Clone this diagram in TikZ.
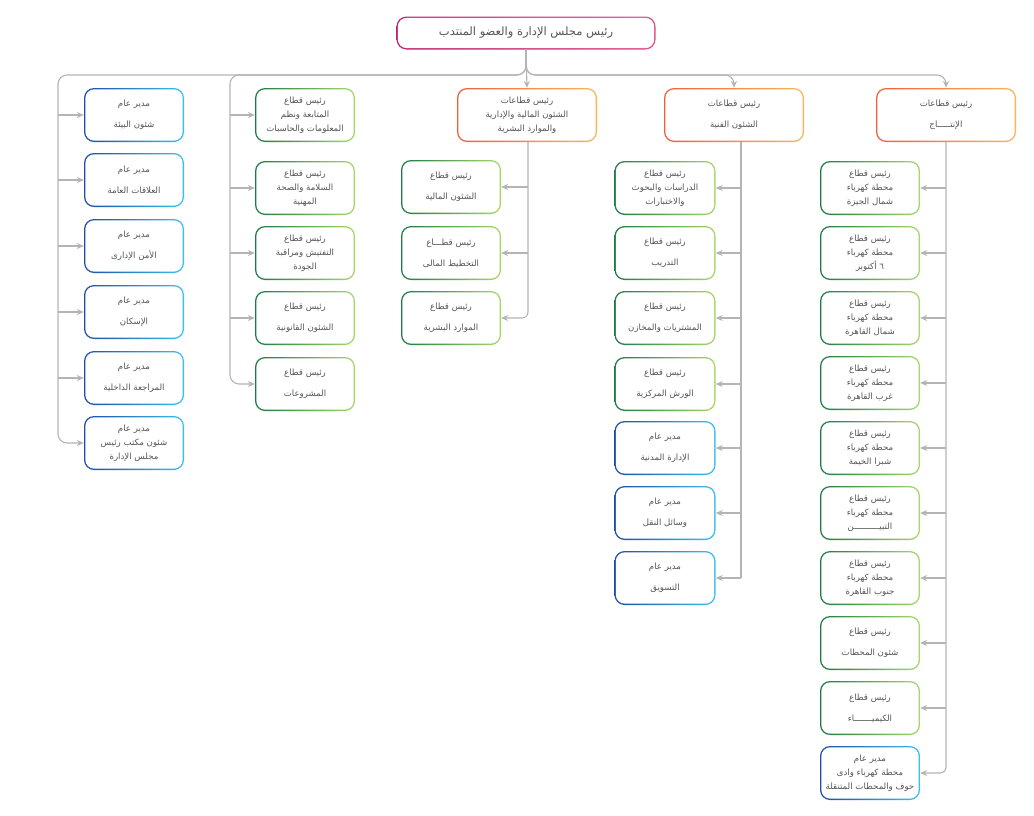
\documentclass[tikz,border=0pt]{standalone}
\usepackage{fontspec}
\TeXXeTstate=1
\newfontfamily\arabicfont[Script=Arabic]{DejaVu Sans}
\usetikzlibrary{arrows.meta}
\definecolor{gD}{HTML}{1E7A45}\definecolor{gL}{HTML}{A8D86A}
\definecolor{bD}{HTML}{1F4EA6}\definecolor{bL}{HTML}{3CC0F0}
\definecolor{oD}{HTML}{F0603A}\definecolor{oL}{HTML}{FDB55A}
\definecolor{mD}{HTML}{C0246A}\definecolor{mL}{HTML}{E0508A}
\definecolor{ln}{HTML}{B4B4B4}\definecolor{tx}{HTML}{555555}
\newcommand\rl[1]{\beginR #1\endR}
\newcommand\bx[7]{%
 \shade[rounded corners=10pt, left color=#6D, right color=#6L] ({#2-#4/2},{#3-#5/2}) rectangle ({#2+#4/2},{#3+#5/2});
 \fill[white, rounded corners=9pt] ({#2-#4/2+1.3},{#3-#5/2+1.3}) rectangle ({#2+#4/2-1.3},{#3+#5/2-1.3});
 \node[txt, minimum width=#4pt, minimum height=#5pt] (#1) at (#2,#3) {#7};}
\begin{document}
\begin{tikzpicture}[x=1pt,y=-1pt,
 txt/.style={align=center, text=tx, font=\arabicfont\fontsize{8.6}{14}\selectfont, inner sep=0pt},
 conn/.style={draw=ln, line width=1.1pt},
 arr/.style={conn, -{Stealth[length=7pt,width=6pt]}},
 ]
\useasboundingbox (0,0) rectangle (1034,815);
% top
\bx{top}{526}{33}{259}{33}{m}{\fontsize{11.5}{14}\selectfont\rl{رئيس مجلس الإدارة والعضو المنتدب}}
% level 1
\bx{fin}{527}{115}{140}{54}{o}{\rl{رئيس قطاعات}\\\rl{الشئون المالية والإدارية}\\\rl{والموارد البشرية}}
\bx{tech}{734}{115}{140}{54}{o}{\rl{رئيس قطاعات}\\[7pt]\rl{الشئون الفنية}}
\bx{prod}{946}{115}{140}{54}{o}{\rl{رئيس قطاعات}\\[7pt]\rl{الإنتـــــاج}}
% column 1
\bx{a1}{134}{115}{100}{54}{b}{\rl{مدير عام}\\[7pt]\rl{شئون البيئة}}
\bx{a2}{134}{180}{100}{54}{b}{\rl{مدير عام}\\[7pt]\rl{العلاقات العامة}}
\bx{a3}{134}{246}{100}{54}{b}{\rl{مدير عام}\\[7pt]\rl{الأمن الإدارى}}
\bx{a4}{134}{312}{100}{54}{b}{\rl{مدير عام}\\[7pt]\rl{الإسكان}}
\bx{a5}{134}{378}{100}{54}{b}{\rl{مدير عام}\\[7pt]\rl{المراجعة الداخلية}}
\bx{a6}{134}{443}{100}{54}{b}{\rl{مدير عام}\\\rl{شئون مكتب رئيس}\\\rl{مجلس الإدارة}}
% column 2
\bx{b1}{305}{115}{100}{54}{g}{\rl{رئيس قطاع}\\\rl{المتابعة ونظم}\\\rl{المعلومات والحاسبات}}
\bx{b2}{305}{188}{100}{54}{g}{\rl{رئيس قطاع}\\\rl{السلامة والصحة}\\\rl{المهنية}}
\bx{b3}{305}{253}{100}{54}{g}{\rl{رئيس قطاع}\\\rl{التفتيش ومراقبة}\\\rl{الجودة}}
\bx{b4}{305}{318}{100}{54}{g}{\rl{رئيس قطاع}\\[7pt]\rl{الشئون القانونية}}
\bx{b5}{305}{384}{100}{54}{g}{\rl{رئيس قطاع}\\[7pt]\rl{المشروعات}}
% finance children
\bx{f1}{451}{187}{100}{54}{g}{\rl{رئيس قطاع}\\[7pt]\rl{الشئون المالية}}
\bx{f2}{451}{253}{100}{54}{g}{\rl{رئيس قطـــاع}\\[7pt]\rl{التخطيط المالى}}
\bx{f3}{451}{318}{100}{54}{g}{\rl{رئيس قطاع}\\[7pt]\rl{الموارد البشرية}}
% tech children
\bx{t1}{665}{188}{101}{54}{g}{\rl{رئيس قطاع}\\\rl{الدراسات والبحوث}\\\rl{والاختبارات}}
\bx{t2}{665}{253}{101}{54}{g}{\rl{رئيس قطاع}\\[7pt]\rl{التدريب}}
\bx{t3}{665}{318}{101}{54}{g}{\rl{رئيس قطاع}\\[7pt]\rl{المشتريات والمخازن}}
\bx{t4}{665}{384}{101}{54}{g}{\rl{رئيس قطاع}\\[7pt]\rl{الورش المركزية}}
\bx{t5}{665}{448}{101}{54}{b}{\rl{مدير عام}\\[7pt]\rl{الإدارة المدنية}}
\bx{t6}{665}{513}{101}{54}{b}{\rl{مدير عام}\\[7pt]\rl{وسائل النقل}}
\bx{t7}{665}{578}{101}{54}{b}{\rl{مدير عام}\\[7pt]\rl{التسويق}}
% production children
\bx{p1}{870}{188}{100}{54}{g}{\rl{رئيس قطاع}\\\rl{محطة كهرباء}\\\rl{شمال الجيزة}}
\bx{p2}{870}{253}{100}{54}{g}{\rl{رئيس قطاع}\\\rl{محطة كهرباء}\\\rl{٦ أكتوبر}}
\bx{p3}{870}{318}{100}{54}{g}{\rl{رئيس قطاع}\\\rl{محطة كهرباء}\\\rl{شمال القاهرة}}
\bx{p4}{870}{383}{100}{54}{g}{\rl{رئيس قطاع}\\\rl{محطة كهرباء}\\\rl{غرب القاهرة}}
\bx{p5}{870}{448}{100}{54}{g}{\rl{رئيس قطاع}\\\rl{محطة كهرباء}\\\rl{شبرا الخيمة}}
\bx{p6}{870}{513}{100}{54}{g}{\rl{رئيس قطاع}\\\rl{محطة كهرباء}\\\rl{التبيــــــــــن}}
\bx{p7}{870}{578}{100}{54}{g}{\rl{رئيس قطاع}\\\rl{محطة كهرباء}\\\rl{جنوب القاهرة}}
\bx{p8}{870}{643}{100}{54}{g}{\rl{رئيس قطاع}\\[7pt]\rl{شئون المحطات}}
\bx{p9}{870}{708}{100}{54}{g}{\rl{رئيس قطاع}\\[7pt]\rl{الكيميـــــــاء}}
\bx{p10}{870}{773}{100}{54}{b}{\rl{مدير عام}\\\rl{محطة كهرباء وادى}\\\rl{حوف والمحطات المتنقلة}}
% trunk coordinates
\coordinate (bus) at (526,75);
\coordinate (xa) at (58,0);
\coordinate (xb) at (230,0);
\coordinate (xf) at (528,0);
\coordinate (xt) at (741,0);
\coordinate (xp) at (946,0);
% top connectors
\draw[arr] (top.south) -- (fin.north);
\draw[arr, rounded corners=9pt] (top.south) |- (tech.north |- bus) -- (tech.north);
\draw[arr, rounded corners=9pt] (top.south) |- (prod.north |- bus) -- (prod.north);
\draw[arr, rounded corners=9pt] (top.south) |- (xa |- bus) |- (a6.west);
\draw[arr, rounded corners=9pt] (top.south) |- (xb |- bus) |- (b5.west);
\foreach \n in {a1,a2,a3,a4,a5} \draw[arr] (xa |- \n) -- (\n.west);
\foreach \n in {b1,b2,b3,b4} \draw[arr] (xb |- \n) -- (\n.west);
% finance
\draw[arr, rounded corners=6pt] (xf |- fin.south) |- (f3.east);
\foreach \n in {f1,f2} \draw[arr] (xf |- \n) -- (\n.east);
% tech
\draw[conn] (xt |- tech.south) -- (xt |- t7);
\foreach \n in {t1,t2,t3,t4,t5,t6,t7} \draw[arr] (xt |- \n) -- (\n.east);
% production
\draw[arr, rounded corners=6pt] (xp |- prod.south) |- (p10.east);
\foreach \n in {p1,p2,p3,p4,p5,p6,p7,p8,p9} \draw[arr] (xp |- \n) -- (\n.east);
\end{tikzpicture}
\end{document}
